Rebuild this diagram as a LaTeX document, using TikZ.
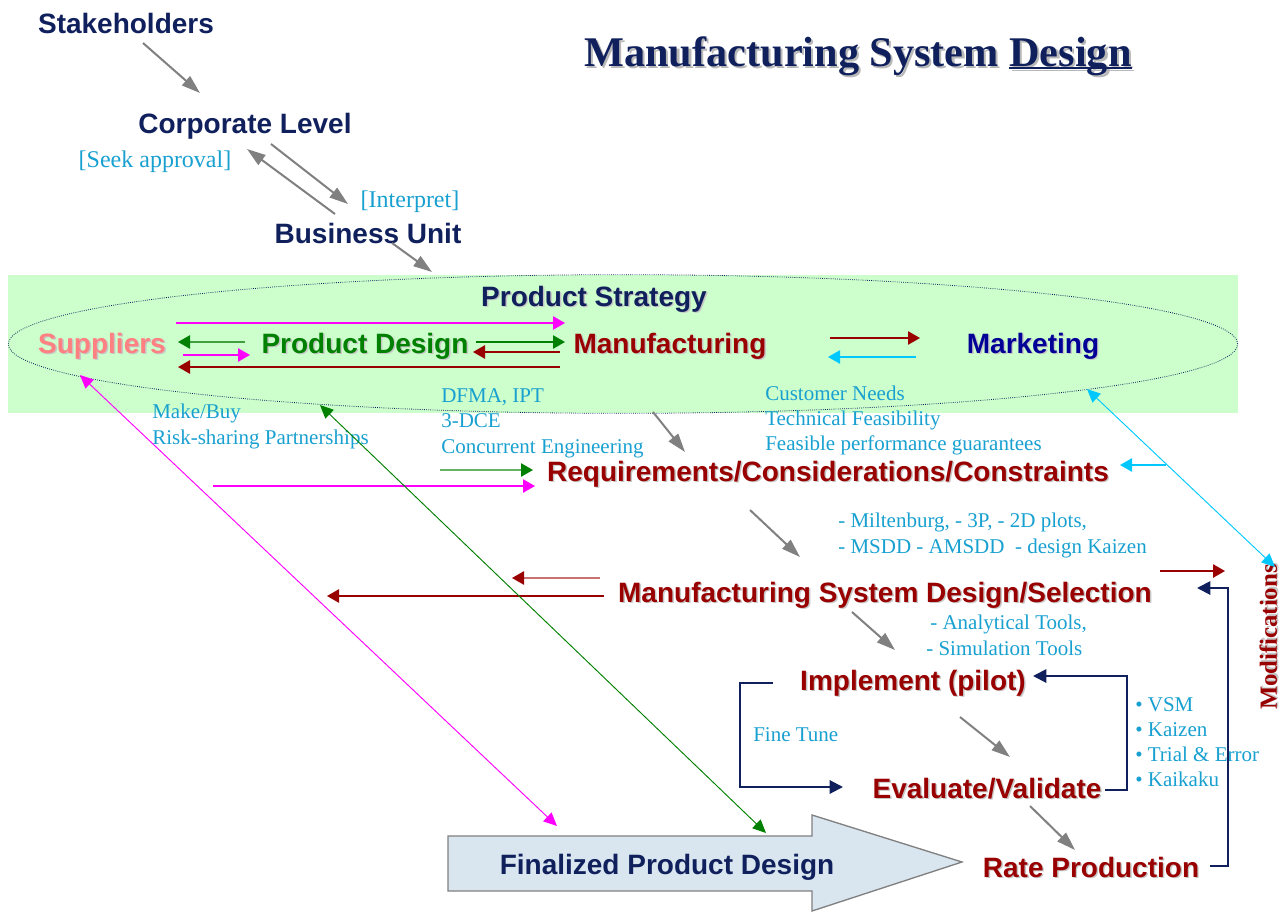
\documentclass[tikz,border=0pt]{standalone}
\usepackage{fontspec}
\setmainfont{Liberation Serif}
\setsansfont{Liberation Sans}
\usetikzlibrary{arrows.meta,positioning}

\definecolor{navytext}{RGB}{16,32,92}
\definecolor{darkred}{RGB}{153,0,0}
\definecolor{supplierpink}{RGB}{255,128,128}
\definecolor{designgreen}{RGB}{0,128,0}
\definecolor{mktblue}{RGB}{0,0,150}
\definecolor{notecyan}{RGB}{24,160,208}
\definecolor{linkcyan}{RGB}{0,200,255}
\definecolor{linkpink}{RGB}{255,0,255}
\definecolor{palegreen}{RGB}{204,255,204}
\definecolor{arrowfill}{RGB}{217,230,240}

\newcommand{\dropshade}[1]{\makebox[0pt][l]{\hspace{1.1pt}\raisebox{-1.1pt}{\color{black!22}#1}}#1}
\newcommand{\titleshade}[1]{\makebox[0pt][l]{\hspace{1.6pt}\raisebox{-1.6pt}{\color{black!28}#1}}#1}
\newcommand{\ulword}[1]{\setbox0\hbox{#1}\rlap{\rule[-2pt]{\wd0}{0.9pt}}\box0}

\tikzset{
    heading/.style={font=\sffamily\bfseries\fontsize{21}{25}\selectfont, inner sep=0pt, anchor=base},
    note/.style={font=\fontsize{15.75}{19}\selectfont, text=notecyan, inner sep=0pt, anchor=base west},
    bracketnote/.style={font=\fontsize{18}{22}\selectfont, text=notecyan, inner sep=0pt, anchor=base},
    bulletnote/.style={font=\fontsize{15.75}{18}\selectfont, text=notecyan, inner sep=0pt, anchor=base west},
    grayflow/.style={draw=gray, line width=1.5pt, -{Triangle[length=14pt,width=9pt]}},
    linkflow/.style={line width=1.2pt, -{Triangle[length=9pt,width=10pt]}},
    longlink/.style={line width=0.7pt, {Triangle[length=10pt,width=9pt]}-{Triangle[length=10pt,width=9pt]}},
    loopflow/.style={draw=navytext, line width=1.5pt, -{Triangle[length=10pt,width=10pt]}},
}

\begin{document}
\begin{tikzpicture}[x=0.75pt,y=-0.75pt]
\useasboundingbox (0,0) rectangle (1285,914);

% product strategy band
\fill[palegreen] (8,275) rectangle (1238,413);
\draw[navytext, densely dotted, line width=0.6pt] (623,344) ellipse [x radius=461pt, y radius=52pt];

% finalized design arrow
\filldraw[fill=arrowfill, draw=gray, line width=1pt] (448,836) -- (812,836) -- (812,815) -- (962,862) -- (812,911) -- (812,891) -- (448,891) -- cycle;

% title
\node[font=\bfseries\fontsize{31.7}{36}\selectfont, text=navytext, inner sep=0pt, anchor=base] (title) at (858,66) {\titleshade{Manufacturing System \ulword{Design}}};

% headings
\node[heading, text=navytext] (stake) at (126,33) {Stakeholders};
\node[heading, text=navytext] (corp) at (245,133) {Corporate Level};
\node[heading, text=navytext] (bunit) at (368,243) {Business Unit};
\node[heading, text=navytext] (strategy) at (594,306) {\dropshade{Product Strategy}};
\node[heading, text=supplierpink] (suppliers) at (102,353) {\dropshade{Suppliers}};
\node[heading, text=designgreen] (design) at (365,353) {\dropshade{Product Design}};
\node[heading, text=darkred] (mfg) at (670,353) {\dropshade{Manufacturing}};
\node[heading, text=mktblue] (mkt) at (1033,353) {\dropshade{Marketing}};
\node[heading, text=darkred] (reqs) at (828,481) {\dropshade{Requirements/Considerations/Constraints}};
\node[heading, text=darkred] (msd) at (885,602) {\dropshade{Manufacturing System Design/Selection}};
\node[heading, text=darkred] (impl) at (913,690) {\dropshade{Implement (pilot)}};
\node[heading, text=darkred] (eval) at (987,798) {\dropshade{Evaluate/Validate}};
\node[heading, text=darkred] (rate) at (1091,877) {\dropshade{Rate Production}};
\node[heading, text=navytext] (final) at (667,874) {Finalized Product Design};
\node[font=\bfseries\fontsize{18.5}{22}\selectfont, text=darkred, rotate=90, inner sep=0pt] (mods) at (1269,637) {\dropshade{Modifications}};

% notes
\node[bracketnote] (seek) at (155,167) {[Seek approval]};
\node[bracketnote] (interp) at (410,207) {[Interpret]};
\node[note] (makebuy) at (152,418) {Make/Buy};
\node[note] (risk) at (152,444) {Risk-sharing Partnerships};
\node[note] (dfma) at (441,402) {DFMA, IPT};
\node[note] (dce) at (441,427) {3-DCE};
\node[note] (concur) at (441,453) {Concurrent Engineering};
\node[note] (needs) at (765,400) {Customer Needs};
\node[note] (techfeas) at (765,425) {Technical Feasibility};
\node[note] (guarant) at (765,450) {Feasible performance guarantees};
\node[note] (milt) at (838,527) {- Miltenburg, - 3P, - 2D plots,};
\node[note] (msdd) at (838,553) {- MSDD - AMSDD\ \ - design Kaizen};
\node[note] (analyt) at (930,629) {- Analytical Tools,};
\node[note] (simul) at (926,655) {- Simulation Tools};
\node[note] (fine) at (753,741) {Fine Tune};
\node[bulletnote] (vsm) at (1135,711) {• VSM};
\node[bulletnote] (kaizen) at (1135,736) {• Kaizen};
\node[bulletnote] (trial) at (1135,761) {• Trial \& Error};
\node[bulletnote] (kaikaku) at (1135,786) {• Kaikaku};

% connector ends
\coordinate (stakeOut) at (143,43);   \coordinate (corpIn) at (200,93);
\coordinate (corpOut) at (271,144);   \coordinate (interpIn) at (348,204);
\coordinate (buUp) at (335,214);      \coordinate (corpBack) at (247,149);
\coordinate (buOut) at (392,243);     \coordinate (bandIn) at (432,272);
\coordinate (mfgOut) at (653,412);    \coordinate (reqsIn) at (685,452);
\coordinate (reqsOut) at (750,510);   \coordinate (msdIn) at (800,557);
\coordinate (msdOut) at (852,612);    \coordinate (implIn) at (895,650);
\coordinate (implOut) at (960,717);   \coordinate (evalIn) at (1010,757);
\coordinate (evalOut) at (1030,806);  \coordinate (rateIn) at (1075,850);

% gray flow
\draw[grayflow] (stakeOut) -- (corpIn);
\draw[grayflow] (corpOut) -- (interpIn);
\draw[grayflow] (buUp) -- (corpBack);
\draw[grayflow] (buOut) -- (bandIn);
\draw[grayflow] (mfgOut) -- (reqsIn);
\draw[grayflow] (reqsOut) -- (msdIn);
\draw[grayflow] (msdOut) -- (implIn);
\draw[grayflow] (implOut) -- (evalIn);
\draw[grayflow] (evalOut) -- (rateIn);

% links inside the strategy band
\coordinate (supTop) at (176,323);    \coordinate (mfgTop) at (565,323);
\coordinate (pdLeft) at (245,342);    \coordinate (supMid) at (178,342);
\coordinate (supLow) at (183,355);    \coordinate (pdLow) at (250,355);
\coordinate (mfgLow) at (560,367);    \coordinate (supBot) at (178,367);
\coordinate (pdRight) at (476,342);   \coordinate (mfgMid) at (565,342);
\coordinate (mfgBack) at (560,352);   \coordinate (pdBack) at (473,352);
\coordinate (mfgRight) at (830,338);  \coordinate (mktIn) at (920,338);
\coordinate (mktOut) at (916,357);    \coordinate (mfgIn) at (828,357);
\draw[linkflow, linkpink] (supTop) -- (mfgTop);
\draw[linkflow, designgreen!75, -{Triangle[length=9pt,width=10pt,color=designgreen]}] (pdLeft) -- (supMid);
\draw[linkflow, linkpink] (supLow) -- (pdLow);
\draw[linkflow, darkred] (mfgLow) -- (supBot);
\draw[linkflow, designgreen] (pdRight) -- (mfgMid);
\draw[linkflow, darkred] (mfgBack) -- (pdBack);
\draw[linkflow, darkred] (mfgRight) -- (mktIn);
\draw[linkflow, linkcyan] (mktOut) -- (mfgIn);

% links into requirements and out of selection
\coordinate (dceOut) at (440,470);    \coordinate (reqsGreen) at (533,470);
\coordinate (supOut) at (213,486);    \coordinate (reqsPink) at (535,486);
\coordinate (mktReq) at (1166,465);   \coordinate (reqsCyan) at (1120,465);
\coordinate (msdShort) at (600,578);  \coordinate (msdShortEnd) at (512,578);
\coordinate (msdLong) at (604,596);   \coordinate (msdLongEnd) at (327,596);
\coordinate (msdMod) at (1160,571);   \coordinate (modIn) at (1225,571);
\draw[linkflow, designgreen!60, -{Triangle[length=9pt,width=10pt,color=designgreen]}] (dceOut) -- (reqsGreen);
\draw[linkflow, linkpink] (supOut) -- (reqsPink);
\draw[linkflow, linkcyan] (mktReq) -- (reqsCyan);
\draw[linkflow, darkred!55, -{Triangle[length=9pt,width=10pt,color=darkred]}] (msdShort) -- (msdShortEnd);
\draw[linkflow, darkred] (msdLong) -- (msdLongEnd);
\draw[linkflow, darkred] (msdMod) -- (modIn);

% feedback loops
\coordinate (rateOut) at (1210,866);  \coordinate (rateCorner) at (1228,866);
\coordinate (msdCorner) at (1228,588); \coordinate (msdBackIn) at (1197,588);
\coordinate (evalOutR) at (1105,790); \coordinate (evalCorner) at (1127,790);
\coordinate (implCorner) at (1127,676); \coordinate (implBackIn) at (1033,676);
\coordinate (implOutL) at (773,683);  \coordinate (fineTop) at (740,683);
\coordinate (fineBot) at (740,787);   \coordinate (evalInL) at (843,787);
\draw[loopflow] (rateOut) -- (rateCorner) -- (msdCorner) -- (msdBackIn);
\draw[loopflow] (evalOutR) -- (evalCorner) -- (implCorner) -- (implBackIn);
\draw[loopflow] (implOutL) -- (fineTop) -- (fineBot) -- (evalInL);

% long two-way links
\coordinate (supRim) at (80,375);     \coordinate (finalPink) at (557,826);
\coordinate (pdRim) at (320,405);     \coordinate (finalGreen) at (766,833);
\coordinate (mktRim) at (1087,389);   \coordinate (modTop) at (1275,567);
\draw[longlink, linkpink] (supRim) -- (finalPink);
\draw[longlink, designgreen] (pdRim) -- (finalGreen);
\draw[longlink, linkcyan] (mktRim) -- (modTop);
\end{tikzpicture}
\end{document}
